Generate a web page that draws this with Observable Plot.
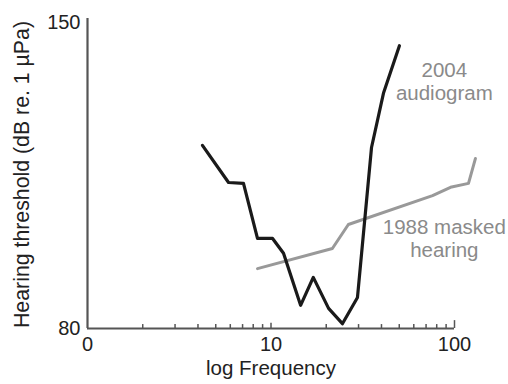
<!DOCTYPE html>
<html>
<head>
<meta charset="utf-8">
<script src="https://cdn.jsdelivr.net/npm/d3@7"></script>
<script src="https://cdn.jsdelivr.net/npm/@observablehq/plot@0.6"></script>
<style>
  html, body { margin: 0; padding: 0; background: #fff; }
</style>
</head>
<body>
<div id="chart"></div>
<script>
// 2004 audiogram (black)
const freqAudiogram = [4.23, 5.87, 7.08, 8.44, 10.2, 11.7, 14.5, 17.0, 20.6, 24.5, 29.6, 35.3, 41.0, 50.1];
const dbAudiogram   = [121.9, 113.4, 113.2, 100.6, 100.6, 97.2, 85.3, 91.7, 84.6, 81.1, 87.1, 121.4, 133.8, 144.7];
// 1988 masked hearing (gray)
const freqMasked = [8.44, 21.6, 26.4, 75.9, 95.1, 119.2, 130.1];
const dbMasked   = [93.7, 98.3, 103.8, 110.4, 112.3, 113.2, 118.9];

// axis ticks
const xTickValues = [1, 10, 100];
const xTickLabels = ["0", "10", "100"];
const xMinorTicks = [2, 3, 4, 5, 6, 7, 8, 9, 20, 30, 40, 50, 60, 70, 80, 90];
const xMajorTicks = [10, 100];
const yTickValues = [80, 150];

// annotations
const labelText = ["2004\naudiogram", "1988 masked\nhearing"];
const labelFreq = [88, 88];
const labelDb   = [136.5, 100.6];

const audiogram = freqAudiogram.map((f, i) => ({f, db: dbAudiogram[i]}));
const masked = freqMasked.map((f, i) => ({f, db: dbMasked[i]}));
const labels = labelText.map((t, i) => ({t, f: labelFreq[i], db: labelDb[i]}));

const axisColor = "#555";
const textColor = "#222";
const grayColor = "#999";

const chart = Plot.plot({
  width: 508,
  height: 384,
  marginLeft: 87,
  marginRight: 54,
  marginTop: 22,
  marginBottom: 56,
  style: {fontFamily: "'Liberation Sans', Arial, Helvetica, sans-serif", fontSize: "20px", background: "#fff", color: textColor},
  x: {type: "log", domain: [1, 100]},
  y: {domain: [80, 150]},
  marks: [
    Plot.axisX({ticks: xTickValues, tickSize: 0, tickPadding: 8, tickFormat: d => xTickLabels[xTickValues.indexOf(d)], label: null, fill: textColor}),
    Plot.axisY({ticks: yTickValues, tickSize: 0, tickPadding: 7, label: null, fill: textColor}),
    Plot.ruleX(xMinorTicks, {x: d => d, y1: 80, y2: 80.9, stroke: axisColor, strokeWidth: 1.5}),
    Plot.ruleX(xMajorTicks, {x: d => d, y1: 80, y2: d => d === 100 ? 81.8 : 81.2, stroke: axisColor, strokeWidth: 1.5}),
    Plot.ruleX([1], {stroke: axisColor, strokeWidth: 2.2, insetTop: -4}),
    Plot.ruleY([80], {x1: 1, x2: 100, stroke: axisColor, strokeWidth: 2.2}),
    Plot.line(masked, {x: "f", y: "db", stroke: grayColor, strokeWidth: 3, strokeLinejoin: "round", strokeLinecap: "round"}),
    Plot.line(audiogram, {x: "f", y: "db", stroke: "#1a1a1a", strokeWidth: 3.2, strokeLinejoin: "round", strokeLinecap: "round"}),
    Plot.text(labels, {x: "f", y: "db", text: "t", fill: "#8a8a8a", fontSize: 20.5, lineHeight: 1.1, textAnchor: "middle"}),
    Plot.text(["log Frequency"], {frameAnchor: "bottom", lineAnchor: "top", textAnchor: "middle", dy: 32, fill: textColor, fontSize: 20.5}),
    Plot.text(["Hearing threshold (dB re. 1 µPa)"], {frameAnchor: "left", rotate: -90, textAnchor: "middle", lineAnchor: "middle", dx: -65, dy: -1, fill: textColor, fontSize: 21.3})
  ]
});
document.getElementById("chart").appendChild(chart);
</script>
</body>
</html>
